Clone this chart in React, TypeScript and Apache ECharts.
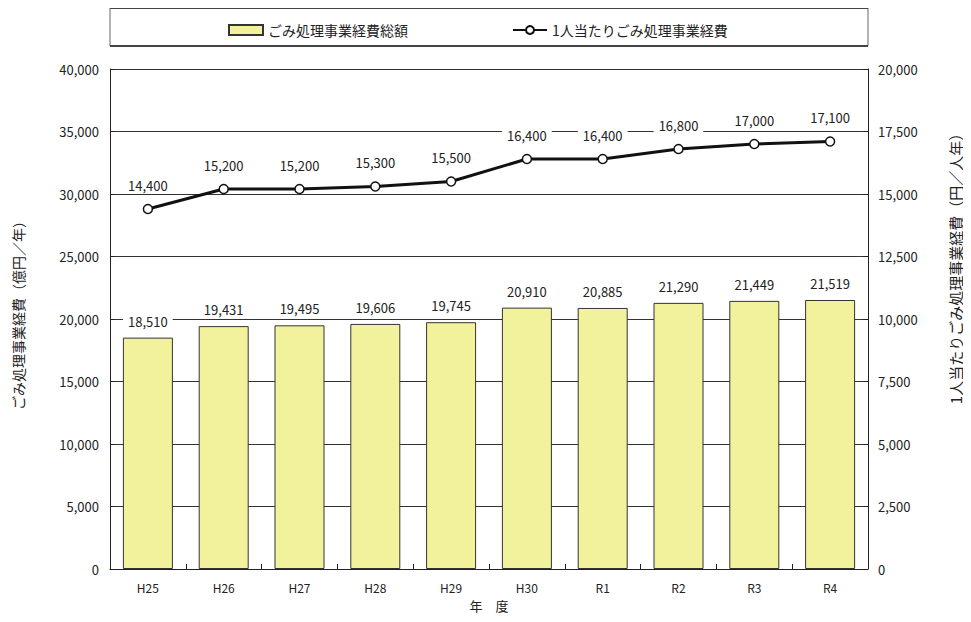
import React, { useEffect, useRef } from "react";
import * as echarts from "echarts";

const categories = ["H25", "H26", "H27", "H28", "H29", "H30", "R1", "R2", "R3", "R4"];
const totalCost = [18510, 19431, 19495, 19606, 19745, 20910, 20885, 21290, 21449, 21519];
const perCapita = [14400, 15200, 15200, 15300, 15500, 16400, 16400, 16800, 17000, 17100];
const barName = "ごみ処理事業経費総額";
const lineName = "1人当たりごみ処理事業経費";
const leftAxisName = "ごみ処理事業経費（億円／年）";
const rightAxisName = "1人当たりごみ処理事業経費（円／人年）";
const xAxisName = "年　度";

const FONT = "'Noto Sans CJK JP', 'Noto Sans', sans-serif";
const fmt = (v: number) => v.toLocaleString("en-US");

export default function App() {
  const ref = useRef<HTMLDivElement>(null);
  useEffect(() => {
    if (!ref.current) return;
    const chart = echarts.init(ref.current, null, { renderer: "svg" });
    chart.setOption({
      animation: false,
      backgroundColor: "#fff",
      textStyle: { fontFamily: FONT, color: "#222" },
      grid: { left: 110, right: 103, top: 69, bottom: 53 },
      legend: {
        top: 18,
        left: 223,
        itemGap: 104,
        itemWidth: 34,
        itemHeight: 10,
        textStyle: { fontSize: 14, color: "#222", fontFamily: FONT },
        data: [
          { name: barName, icon: "rect" },
          { name: lineName },
        ],
      },
      graphic: [
        {
          type: "rect",
          shape: { x: 110, y: 8, width: 758, height: 38 },
          style: { fill: "none", stroke: "#666", lineWidth: 1 },
          silent: true,
        },
        {
          type: "line",
          shape: { x1: 110, y1: 8, x2: 868, y2: 8 },
          style: { stroke: "#444", lineWidth: 2 },
          silent: true,
        },
        {
          type: "line",
          shape: { x1: 110, y1: 46, x2: 868, y2: 46 },
          style: { stroke: "#444", lineWidth: 2 },
          silent: true,
        },
        {
          type: "text",
          x: 18,
          y: 312,
          rotation: Math.PI / 2,
          style: {
            text: leftAxisName,
            fontSize: 14,
            fontFamily: FONT,
            fill: "#222",
            align: "center",
            verticalAlign: "middle",
          },
          silent: true,
        },
        {
          type: "text",
          x: 955,
          y: 265,
          rotation: Math.PI / 2,
          style: {
            text: rightAxisName,
            fontSize: 15,
            fontFamily: FONT,
            fill: "#222",
            align: "center",
            verticalAlign: "middle",
          },
          silent: true,
        },
      ],
      xAxis: {
        type: "category",
        data: categories,
        name: xAxisName,
        nameLocation: "middle",
        nameGap: 30,
        nameTextStyle: { fontSize: 13, color: "#222", fontFamily: FONT },
        axisLine: { lineStyle: { color: "#222", width: 1 } },
        axisTick: { show: true, inside: true, length: 5, lineStyle: { color: "#222" } },
        axisLabel: { fontSize: 12, color: "#222", margin: 12, fontFamily: FONT },
      },
      yAxis: [
        {
          type: "value",
          min: 0,
          max: 40000,
          interval: 5000,
          axisLine: { show: true, lineStyle: { color: "#222", width: 1 } },
          axisTick: { show: true, inside: true, length: 5, lineStyle: { color: "#222" } },
          axisLabel: { formatter: (v: number) => fmt(v), fontSize: 13, color: "#222", margin: 11, fontFamily: FONT },
          splitLine: { show: true, lineStyle: { color: "#333", width: 1 } },
        },
        {
          type: "value",
          min: 0,
          max: 20000,
          interval: 2500,
          axisLine: { show: true, lineStyle: { color: "#222", width: 1 } },
          axisTick: { show: true, inside: true, length: 5, lineStyle: { color: "#222" } },
          axisLabel: { formatter: (v: number) => fmt(v), fontSize: 13, color: "#222", margin: 10, fontFamily: FONT },
          splitLine: { show: false },
        },
      ],
      series: [
        {
          name: barName,
          type: "bar",
          yAxisIndex: 0,
          data: totalCost,
          barWidth: 50,
          itemStyle: { color: "#F2F29C", borderColor: "#333", borderWidth: 1 },
          label: {
            show: true,
            position: "top",
            distance: 8,
            formatter: (p: any) => fmt(p.value),
            fontSize: 13,
            color: "#222",
            fontFamily: FONT,
            backgroundColor: "#fff",
            padding: [2, 5],
          },
          z: 2,
        },
        {
          name: lineName,
          type: "line",
          yAxisIndex: 1,
          data: perCapita,
          symbol: "circle",
          symbolSize: 9,
          lineStyle: { color: "#111", width: 3 },
          itemStyle: { color: "#fff", borderColor: "#111", borderWidth: 1.5 },
          label: {
            show: true,
            position: "top",
            distance: 10,
            formatter: (p: any) => fmt(p.value),
            fontSize: 13,
            color: "#222",
            fontFamily: FONT,
            backgroundColor: "#fff",
            padding: [2, 5],
          },
          z: 3,
        },
      ],
    });
    return () => chart.dispose();
  }, []);
  return <div ref={ref} style={{ width: 971, height: 622, margin: -8 }} />;
}
